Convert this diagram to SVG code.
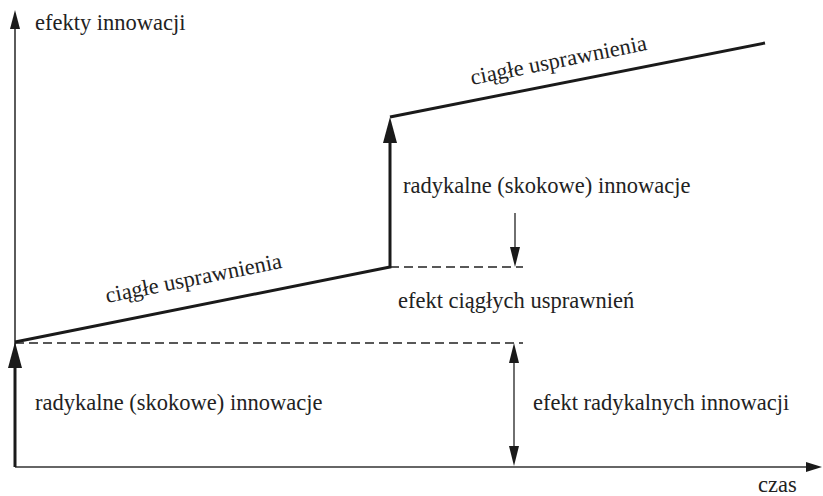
<svg xmlns="http://www.w3.org/2000/svg" width="823" height="496" viewBox="0 0 823 496">
<style>
text{font-family:"Liberation Serif","Times New Roman",serif;font-size:22.5px;fill:#222}
.axis{stroke:#333;stroke-width:1.6;fill:none}
.thick{stroke:#1a1a1a;stroke-width:3;fill:none}
.thin{stroke:#222;stroke-width:1.3;fill:none}
.dash{stroke:#222;stroke-width:1.3;fill:none;stroke-dasharray:9 5}
.head{fill:#1a1a1a}
</style>
<rect width="823" height="496" fill="#fff"/>
<g id="connectors">
<line class="axis" x1="15" y1="467" x2="15" y2="24"/>
<polygon class="head" points="15,10 10,29 20,29"/>
<line class="axis" x1="15" y1="467" x2="810" y2="467"/>
<polygon class="head" points="822,467 806,462 806,472"/>
<line class="dash" x1="15" y1="343" x2="523" y2="343"/>
<line class="dash" x1="390" y1="267" x2="523" y2="267"/>
<line class="thick" x1="15" y1="467" x2="15" y2="360"/>
<polygon class="head" points="15,342 8,368 22,368"/>
<polyline class="thick" points="15,342 390,267 390,135"/>
<polygon class="head" points="390,117 383,143 397,143"/>
<line class="thick" x1="390" y1="117" x2="765" y2="43"/>
<line class="thin" x1="515" y1="213" x2="515" y2="252"/>
<polygon class="head" points="515,267 510,247 520,247"/>
<line class="thin" x1="514" y1="355" x2="514" y2="455"/>
<polygon class="head" points="514,343 509,363 519,363"/>
<polygon class="head" points="514,466 509,446 519,446"/>
</g>
<g id="labels">
<text x="35" y="30">efekty innowacji</text>
<text x="758" y="492">czas</text>
<text transform="translate(472,85) rotate(-11.31)">ciągłe usprawnienia</text>
<text transform="translate(107,303) rotate(-11.31)">ciągłe usprawnienia</text>
<text x="403" y="193">radykalne (skokowe) innowacje</text>
<text x="398" y="308">efekt ciągłych usprawnień</text>
<text x="35" y="410">radykalne (skokowe) innowacje</text>
<text x="533" y="410">efekt radykalnych innowacji</text>
</g>
</svg>
